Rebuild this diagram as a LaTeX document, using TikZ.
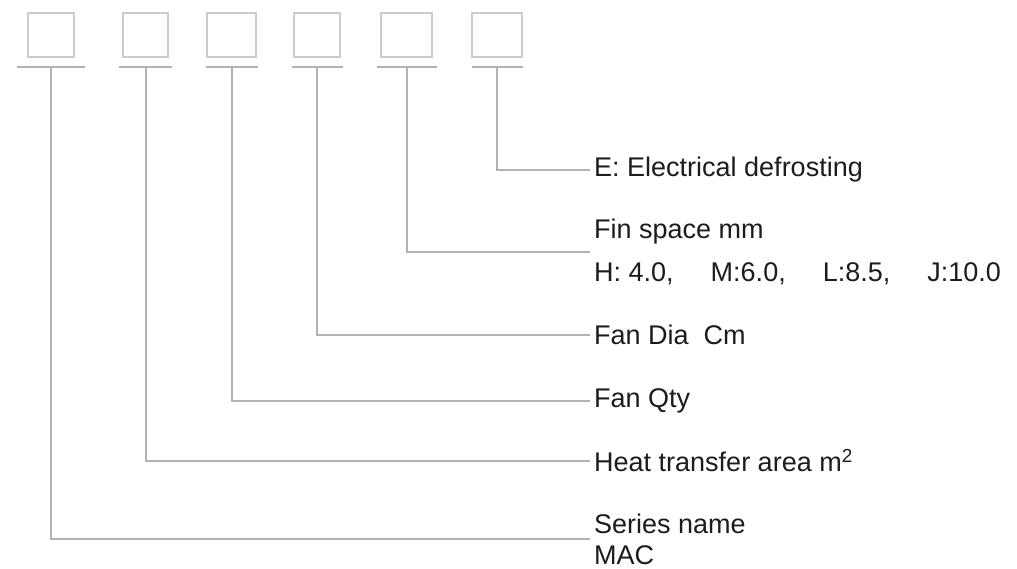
\documentclass[tikz,border=0pt]{standalone}
\usepackage{fontspec}
\setmainfont{Liberation Sans}
\usetikzlibrary{positioning}
\definecolor{boxgrey}{RGB}{204,204,204}
\definecolor{linegrey}{RGB}{178,178,178}
\definecolor{textblack}{RGB}{28,28,28}

\begin{document}
\begin{tikzpicture}[x=1pt, y=-1pt,
        codebox/.style={draw=boxgrey, line width=1.5pt, minimum height=44pt, inner sep=0pt},
        bar/.style={draw=linegrey, line width=2.5pt},
        leader/.style={draw=linegrey, line width=2pt},
        lbl/.style={anchor=west, inner xsep=4pt, inner ysep=0pt, text=textblack, font=\fontsize{27}{31}\selectfont, align=left}]
        \useasboundingbox (0,0) rectangle (1017,568);

        % code boxes with their bars
        \foreach \n/\x/\w/\b in {1/51/46/34, 2/145.5/45/26.5, 3/231.5/49/26, 4/317/46/25.5, 5/406.5/51/30, 6/497/50/25.5}
        {
            \node[codebox, minimum width=\w pt] (box\n) at (\x,35) {};
            \draw[bar] (\x-\b,67) -- (\x+\b,67);
            \coordinate (bar\n) at (\x,67);
        }

        % labels
        \node[lbl] (defrost) at (590,170) {E: Electrical defrosting};
        \node[lbl] (finspace) at (590,252) {Fin space mm\\[12pt]H: 4.0,\hspace{37pt}M:6.0,\hspace{37pt}L:8.5,\hspace{37pt}J:10.0};
        \node[lbl] (fandia) at (590,335) {Fan Dia~~Cm};
        \node[lbl] (fanqty) at (590,401) {Fan Qty};
        \node[lbl] (area) at (590,461) {Heat transfer area m\textsuperscript{2}};
        \node[lbl] (series) at (590,539) {Series name\\MAC};

        % leaders
        \draw[leader] (bar6) |- (defrost.west);
        \draw[leader] (bar5) |- (finspace.west);
        \draw[leader] (bar4) |- (fandia.west);
        \draw[leader] (bar3) |- (fanqty.west);
        \draw[leader] (bar2) |- (area.west);
        \draw[leader] (bar1) |- (series.west);
\end{tikzpicture}
\end{document}
